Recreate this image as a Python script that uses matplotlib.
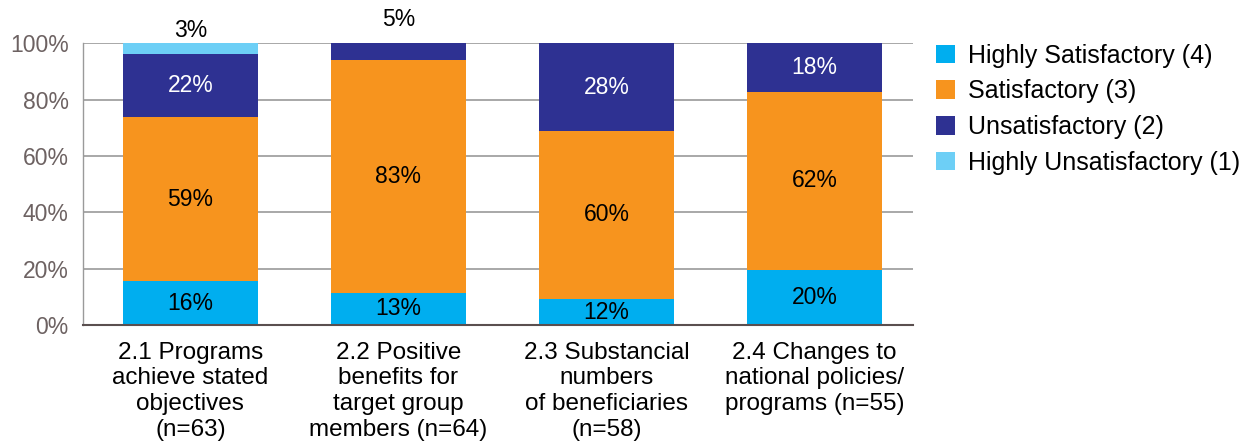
import matplotlib
matplotlib.use("Agg")
import matplotlib.pyplot as plt
from matplotlib.patches import Patch
from matplotlib import font_manager

categories = [
    "2.1 Programs\nachieve stated\nobjectives\n(n=63)",
    "2.2 Positive\nbenefits for\ntarget group\nmembers (n=64)",
    "2.3 Substancial\nnumbers\nof beneficiaries\n(n=58)",
    "2.4 Changes to\nnational policies/\nprograms (n=55)",
]
series_names = ["Highly Satisfactory (4)", "Satisfactory (3)",
                "Unsatisfactory (2)", "Highly Unsatisfactory (1)"]
# segment heights as drawn (percent)
highly_sat = [15.6, 11.4, 9.2, 19.6]
satisfactory = [58.2, 82.7, 59.7, 63.1]
unsatisfactory = [22.4, 5.9, 31.1, 17.3]
highly_unsat = [3.8, 0.0, 0.0, 0.0]
# printed labels
lab_highly_sat = ["16%", "13%", "12%", "20%"]
lab_satisfactory = ["59%", "83%", "60%", "62%"]
lab_unsatisfactory = ["22%", "5%", "28%", "18%"]
lab_highly_unsat = ["3%", "", "", ""]
yticks = [0, 20, 40, 60, 80, 100]
ytick_labels = ["0%", "20%", "40%", "60%", "80%", "100%"]

colors = ["#00AEEF", "#F7941E", "#2E3192", "#6DCFF6"]
text_colors = ["black", "black", "white", "black"]

avail = {f.name for f in font_manager.fontManager.ttflist}
base_font = "Liberation Sans" if "Liberation Sans" in avail else "DejaVu Sans"
plt.rcParams["font.family"] = [base_font, "DejaVu Sans"]

fig = plt.figure(figsize=(12.6, 4.45), dpi=100)
ax = fig.add_axes([0.0656, 0.2697, 0.659, 0.633])

series = [highly_sat, satisfactory, unsatisfactory, highly_unsat]
labels = [lab_highly_sat, lab_satisfactory, lab_unsatisfactory, lab_highly_unsat]
x = list(range(len(categories)))
bottoms = [0.0] * len(categories)
width = 0.65
for s, vals in enumerate(series):
    ax.bar(x, vals, width=width, bottom=bottoms, color=colors[s], zorder=3,
           linewidth=0)
    for i, v in enumerate(vals):
        lab = labels[s][i]
        if lab:
            if v >= 8:
                ax.text(x[i], bottoms[i] + v / 2, lab, ha="center", va="center",
                        fontsize=16.5, color=text_colors[s], zorder=4)
            else:
                ypos = 104.5 if s == 3 else 108.5
                ax.text(x[i], ypos, lab, ha="center", va="center",
                        fontsize=16.5, color="black", zorder=4, clip_on=False)
        bottoms[i] += v

ax.set_xlim(-0.518, 3.474)
ax.set_ylim(0, 100)
ax.set_yticks(yticks)
ax.set_yticklabels(ytick_labels, fontsize=16.5, color="#6d6262")
ax.tick_params(axis="y", length=0, pad=10)
ax.set_xticks(x)
ax.set_xticklabels(categories, fontsize=17.5, linespacing=1.22, color="black")
ax.tick_params(axis="x", length=0, pad=12)
ax.grid(axis="y", color="#9a9a9a", linewidth=1.2, zorder=0)
for sp in ["top", "right"]:
    ax.spines[sp].set_visible(False)
ax.spines["left"].set_color("#9a9a9a")
ax.spines["left"].set_linewidth(1.0)
ax.spines["bottom"].set_color("#5a4f4f")
ax.spines["bottom"].set_linewidth(1.5)
ax.spines["bottom"].set_zorder(5)

handles = [Patch(facecolor=c, edgecolor="none") for c in colors]
fig.legend(handles, series_names, loc="upper left",
           bbox_to_anchor=(0.743, 0.902), frameon=False, fontsize=18,
           handlelength=0.76, handleheight=0.76, handletextpad=0.52,
           labelspacing=0.47, borderaxespad=0, borderpad=0)

fig.savefig("out.png", dpi=100)
